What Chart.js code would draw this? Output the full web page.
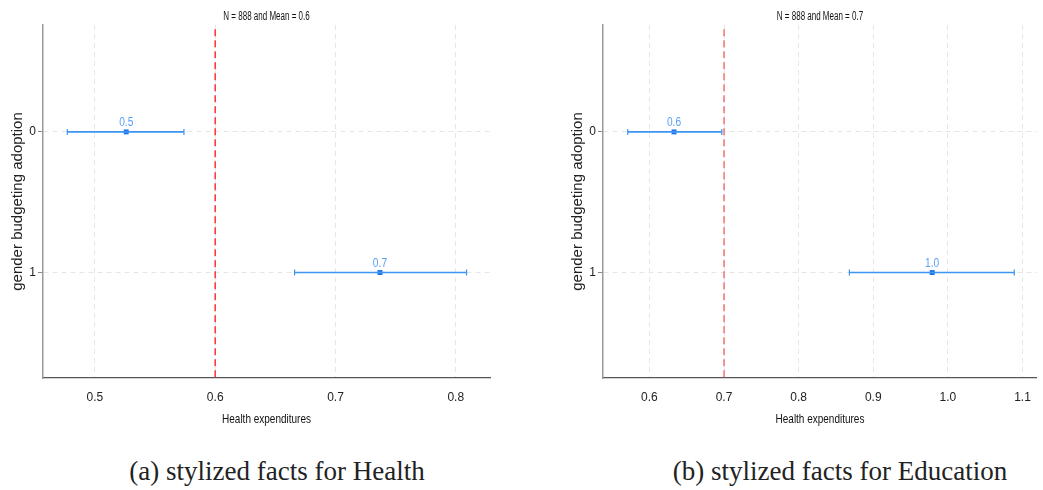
<!DOCTYPE html>
<html>
<head>
<meta charset="utf-8">
<script src="https://cdn.jsdelivr.net/npm/chart.js@4.4.1/dist/chart.umd.min.js"></script>
<style>
  html, body { margin: 0; padding: 0; background: #fff; }
  body { width: 1043px; height: 490px; position: relative; overflow: hidden; }
  .panel { position: absolute; top: 0; height: 440px; }
  .caption {
    position: absolute; top: 456px; font-family: "Liberation Serif", "DejaVu Serif", serif;
    font-size: 27px; color: #222; text-align: center; white-space: nowrap;
  }
</style>
</head>
<body>
<div class="panel" style="left:0;width:520px"><canvas id="health"></canvas></div>
<div class="panel" style="left:560px;width:483px"><canvas id="edu"></canvas></div>
<div class="caption" style="left:0;width:554px">(a) stylized facts for Health</div>
<div class="caption" style="left:560px;width:560px">(b) stylized facts for Education</div>
<script>
// gender budgeting adoption groups (0 = no, 1 = yes)
const groups = [0, 1];

// Health panel
const healthMean = [0.526, 0.737];
const healthLow = [0.477, 0.666];
const healthHigh = [0.574, 0.809];
const healthOverall = 0.6;
const healthTicks = [0.5, 0.6, 0.7, 0.8];

// Education panel
const eduMean = [0.633, 0.979];
const eduLow = [0.571, 0.868];
const eduHigh = [0.697, 1.089];
const eduOverall = 0.7;
const eduTicks = [0.6, 0.7, 0.8, 0.9, 1.0, 1.1];

const N = 888;

const sans = '"Liberation Sans", Arial, sans-serif';

// Stata-style narrow text: squeeze horizontally around (x, y)
function narrowText(ctx, text, x, y, sx) {
  ctx.save();
  ctx.translate(x, y);
  ctx.scale(sx, 1);
  ctx.fillText(text, 0, 0);
  ctx.restore();
}

const panelText = {
  id: "panelText",
  afterDatasetsDraw(chart, args, opts) {
    const { ctx, scales, chartArea } = chart;
    const cx = (chartArea.left + chartArea.right) / 2;
    ctx.save();
    ctx.textAlign = "center";
    ctx.textBaseline = "middle";

    ctx.font = `12px ${sans}`;
    ctx.fillStyle = "#5b9ef5";
    opts.means.forEach((m, i) => {
      narrowText(ctx, m.toFixed(1), scales.x.getPixelForValue(m), scales.y.getPixelForValue(groups[i]) - 9, 0.85);
    });

    ctx.fillStyle = "#111";
    ctx.font = `12.5px ${sans}`;
    narrowText(ctx, opts.title, cx, 17, 0.64);
    ctx.font = `13.5px ${sans}`;
    narrowText(ctx, opts.xTitle, cx, 419, 0.74);
    ctx.restore();
  },
};

function renderPanel(canvas, { low, high, mean, overall, ticks, xmin, xmax, right, lineColor }) {
  const parent = canvas.parentElement;
  canvas.width = parent.clientWidth;
  canvas.height = parent.clientHeight;
  canvas.style.width = parent.clientWidth + "px";
  canvas.style.height = parent.clientHeight + "px";

  const ciSets = groups.map((g, i) => ({
    type: "line",
    data: [{ x: low[i], y: g }, { x: high[i], y: g }],
    borderColor: "#3d94f2",
    borderWidth: 1.6,
    pointStyle: "line",
    rotation: 90,
    radius: 3,
    pointBorderWidth: 1.2,
    pointBorderColor: "#3d94f2",
  }));

  return new Chart(canvas, {
    type: "scatter",
    data: {
      datasets: [
        {
          type: "line",
          data: [{ x: overall, y: -0.73 }, { x: overall, y: 1.75 }],
          borderColor: lineColor,
          borderWidth: 1.6,
          borderDash: [7, 4],
          pointRadius: 0,
        },
        ...ciSets,
        {
          data: groups.map((g, i) => ({ x: mean[i], y: g })),
          pointStyle: "rect",
          radius: 3.5,
          backgroundColor: "#1f74ec",
          borderColor: "#1f74ec",
          borderWidth: 0,
        },
      ],
    },
    options: {
      responsive: false,
      animation: false,
      layout: { padding: { top: 25, right: canvas.width - right, left: 0, bottom: 0 } },
      plugins: {
        legend: { display: false },
        tooltip: { enabled: false },
        panelText: { means: mean, title: `N = ${N} and Mean = ${overall}`, xTitle: "Health expenditures" },
      },
      scales: {
        x: {
          type: "linear",
          min: xmin,
          max: xmax,
          afterBuildTicks(scale) { scale.ticks = ticks.map((v) => ({ value: v })); },
          afterFit(scale) { scale.height = 62; },
          ticks: {
            callback: (v) => v.toFixed(1),
            font: { family: sans, size: 12 },
            color: "#222",
            padding: 12,
            maxRotation: 0,
          },
          grid: { color: "#e6e6e6", drawTicks: false, lineWidth: 1 },
          border: { color: "#555", width: 1.2, dash: [5, 4] },
        },
        y: {
          type: "linear",
          reverse: true,
          min: -0.76,
          max: 1.75,
          afterBuildTicks(scale) { scale.ticks = groups.map((v) => ({ value: v })); },
          afterFit(scale) { scale.width = 43; },
          ticks: { font: { family: sans, size: 12 }, color: "#222", padding: 2 },
          grid: { color: "#e6e6e6", tickLength: 5, tickColor: "#888", tickBorderDash: [], lineWidth: 1 },
          border: { color: "#999", width: 1.5, dash: [5, 4] },
          title: { display: true, text: "gender budgeting adoption", font: { family: sans, size: 15 }, color: "#222", padding: { bottom: 0, top: 9 } },
        },
      },
    },
    plugins: [panelText],
  });
}

renderPanel(document.getElementById("health"), {
  low: healthLow, high: healthHigh, mean: healthMean, overall: healthOverall,
  ticks: healthTicks, xmin: 0.4568, xmax: 0.8285, right: 490, lineColor: "rgba(255,40,40,0.9)",
});
renderPanel(document.getElementById("edu"), {
  low: eduLow, high: eduHigh, mean: eduMean, overall: eduOverall,
  ticks: eduTicks, xmin: 0.5378, xmax: 1.1194, right: 483, lineColor: "rgba(240,90,90,0.8)",
});
</script>
</body>
</html>
